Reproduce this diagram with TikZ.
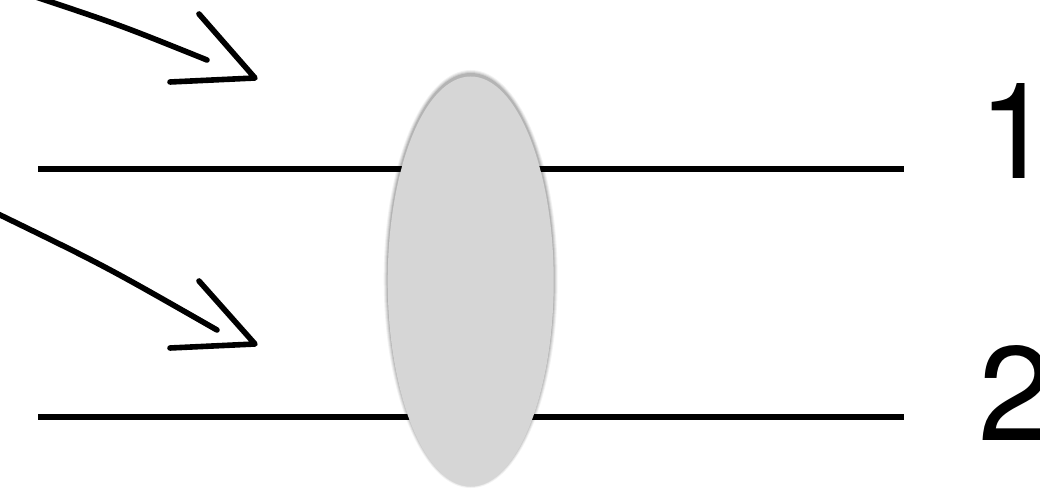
\documentclass[tikz,border=0pt]{standalone}
\usepackage{fontspec}
\setmainfont{TeX Gyre Heros}
\usetikzlibrary{shapes.geometric}
\begin{document}
\begin{tikzpicture}[x=1pt,y=-1pt,
  rail/.style={line width=5.6pt},
  shaft/.style={line width=5.6pt,line cap=round,line join=round},
  lens/.style={ellipse,fill=lensgray,draw=none,inner sep=0pt,minimum width=166pt,minimum height=410pt},
  digit/.style={inner sep=0pt,anchor=base west,font=\fontsize{134}{134}\selectfont}]
\definecolor{lensgray}{HTML}{D6D6D6}
\useasboundingbox (0,0) rectangle (1040,494);
% rails
\coordinate (r1a) at (38,169);
\coordinate (r1b) at (904,169);
\coordinate (r2a) at (38,417);
\coordinate (r2b) at (904,417);
\draw[rail] (r1a) -- (r1b);
\draw[rail] (r2a) -- (r2b);
% lens with soft shadow
\coordinate (lc) at (470.7,281.5);
\foreach \d/\o in {4/0.05,3/0.07,2/0.09,1/0.12}{
  \fill[black,opacity=\o] ([yshift=2.5pt]lc) ellipse ({83+\d} and {205+\d});
}
\node[lens] (lens) at (lc) {};
% arrow 1
\coordinate (a1s) at (33,-4);
\coordinate (a1c) at (120,25);
\coordinate (a1e) at (207,60);
\coordinate (a1t) at (255,78);
\coordinate (a1u) at (199,14);
\coordinate (a1l) at (170,82);
\draw[shaft] (a1s) .. controls (a1c) .. (a1e);
\draw[shaft] (a1u) -- (a1t) -- (a1l);
% arrow 2
\coordinate (a2s) at (-6,212);
\coordinate (a2c) at (105,266);
\coordinate (a2e) at (217,330);
\coordinate (a2t) at (255,344);
\coordinate (a2u) at (199,281);
\coordinate (a2l) at (170,348);
\draw[shaft] (a2s) .. controls (a2c) .. (a2e);
\draw[shaft] (a2u) -- (a2t) -- (a2l);
% labels
\node[digit] (one) at (978,179) {1};
\node[digit] (two) at (978,440) {2};
\end{tikzpicture}
\end{document}
